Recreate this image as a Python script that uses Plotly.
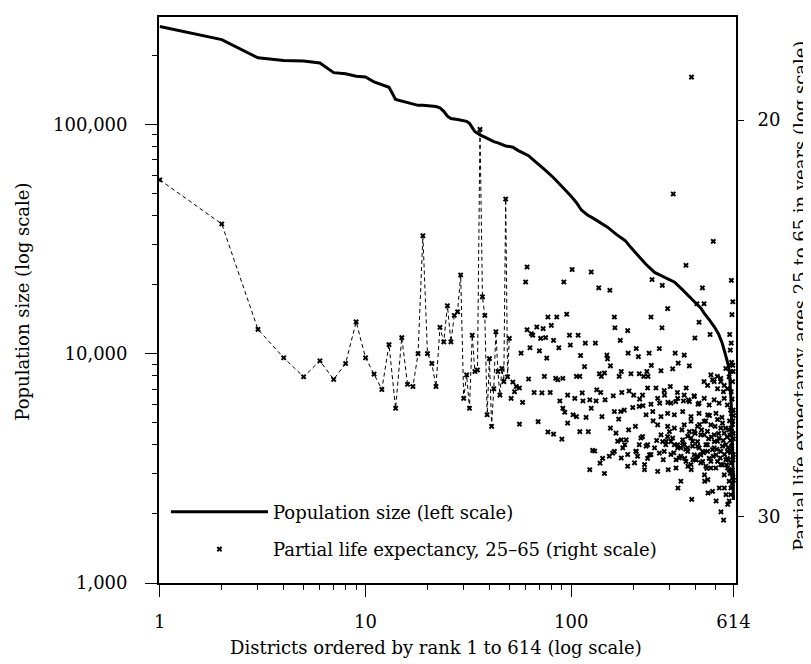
import plotly.graph_objects as go
import math

# ---------------- data ----------------
# Population size (left scale), districts ordered by rank
pop_rank = [1, 2, 3, 4, 5, 6, 7, 8, 9, 10, 11, 12, 13, 14, 15, 16, 17, 18, 19, 20,
            21, 22, 23, 24, 25, 26, 28, 30, 31, 32, 33, 34, 35, 36, 38, 40, 42, 44, 46, 48,
            50, 52, 55, 58, 62, 66, 70, 75, 82, 88, 94, 100, 106, 112, 120, 130, 140, 150,
            165, 183, 195, 211, 230, 254, 285, 318, 343, 369, 398, 427, 445, 470, 496, 520,
            540, 555, 570, 580, 587, 592, 596, 600, 603, 606, 609, 611, 613, 614]
pop_size = [267000, 234000, 195000, 190000, 189000, 185000, 168000, 166000, 162000, 161000,
            153000, 149000, 145000, 128500, 126500, 125000, 123000, 121000, 121000, 120500,
            120000, 119500, 118000, 114000, 108600, 106000, 105000, 104000, 103000, 101000,
            97000, 93000, 91500, 90000, 88000, 86000, 84000, 83000, 81500, 80500,
            80000, 79500, 77000, 75000, 73000, 69500, 66500, 63000, 58500, 55000,
            51500, 48500, 45500, 42300, 40200, 38600, 37000, 35600,
            33200, 31100, 29000, 26800, 24600, 22600, 21500, 20500, 19200, 17900, 16800, 15800,
            14900, 14000, 13100, 12200, 11200, 10300, 9500, 8900, 8300, 7600, 6600, 5900,
            5200, 4500, 3800, 3200, 2700, 2300]

# Partial life expectancy 25-65 (right scale): ranks 1-50 joined by a dashed line
le_line_rank = list(range(1, 51))
le_line_value = [21.26, 22.24, 24.77, 25.50, 26.00, 25.58, 26.07, 25.65, 24.58, 25.50,
                 25.93, 26.34, 25.16, 26.85, 24.98, 26.20, 26.26, 25.39, 22.51, 25.39,
                 25.65, 26.26, 24.72, 25.09, 24.18, 25.09, 24.42, 24.33, 23.43, 26.58,
                 25.95, 26.85, 24.92, 25.86, 25.82, 20.19, 23.96, 24.42, 27.03, 25.52,
                 27.35, 26.32, 24.83, 25.86, 26.49, 25.78, 26.13, 21.68, 26.00, 25.00]

# remaining districts (rank, years), shown as points only
le_points = [
    (384, 19.14), (313, 21.57),
    (61, 23.24), (60, 23.6), (92, 23.6), (101, 23.3), (125, 23.36), (136, 23.74), (154, 23.8),
    (77, 24.46), (85, 24.46), (95, 24.39), (61, 24.78), (64, 24.88), (65, 24.92), (68, 24.71),
    (73, 24.75), (80, 24.67), (71, 25.0), (75, 24.98), (82, 25.05), (87, 25.24), (98, 24.92),
    (108, 24.92), (99, 25.17), (117, 25.12), (131, 25.12), (111, 25.44), (57, 25.38), (63, 25.24),
    (70, 25.32), (76, 25.51), (149, 25.43), (150, 25.53), (155, 25.71), (162, 24.46), (163, 24.73),
    (188, 24.8), (173, 25.05), (189, 25.38), (207, 25.26), (212, 25.47), (239, 25.38), (268, 25.26),
    (244, 24.46), (276, 24.73), (247, 23.54), (277, 23.68), (294, 24.25), (361, 23.2), (490, 22.64),
    (434, 23.74), (408, 24.13), (442, 24.13), (418, 24.59), (399, 24.99), (473, 24.9), (600, 23.56),
    (610, 24.08), (599, 25.12), (602, 25.62), (612, 25.86), (320, 25.38), (354, 25.43), (375, 25.71),
    (331, 25.64), (311, 25.79), (273, 25.84), (245, 25.7), (233, 25.86), (225, 25.99), (236, 25.99),
    (214, 25.92), (195, 25.92), (175, 25.86), (171, 25.99), (145, 25.9), (137, 25.92), (140, 25.99),
    (116, 25.73), (106, 25.99), (110, 25.99), (91, 26.04), (84, 26.04), (86, 26.08), (74, 25.99),
    (62, 26.06), (56, 26.3), (54, 26.26), (52, 26.14), (53, 26.4), (51, 26.58), (58, 26.69),
    (66, 26.42), (72, 26.43), (79, 26.42), (88, 26.65), (96, 26.49), (104, 26.58), (113, 26.43),
    (114, 26.65), (123, 26.62), (133, 26.35), (139, 26.42), (132, 26.65), (146, 26.62), (160, 26.51),
    (176, 26.42), (191, 26.38), (201, 26.49), (222, 26.49), (235, 26.3), (258, 26.3), (283, 26.37),
    (303, 26.26), (328, 26.42), (362, 26.3), (396, 26.51), (442, 26.13), (486, 26.08), (513, 25.99),
    (533, 26.13), (549, 26.4), (413, 26.74), (371, 26.62), (351, 26.65), (322, 26.67), (295, 26.69),
    (269, 26.71), (244, 26.74), (223, 26.78), (199, 26.83), (181, 26.9), (174, 26.94), (162, 26.94),
    (141, 27.08), (125, 26.85), (102, 27.03), (106, 27.08), (93, 26.96), (91, 26.85), (56, 27.29),
    (69, 27.22), (77, 27.51), (82, 27.57), (90, 27.71),
    (96, 27.26), (110, 27.5), (121, 27.5), (127, 28.03), (138, 28.4), (142, 28.26), (153, 28.2),
    (159, 28.11), (123, 28.59), (165, 27.54), (175, 27.73), (185, 27.73), (178, 27.96), (188, 28.49),
    (206, 28.06), (210, 28.2), (214, 27.87), (222, 27.64), (231, 27.91), (235, 28.26), (240, 28.16),
    (227, 28.59), (254, 27.96), (268, 28.11), (263, 28.64), (278, 27.78), (288, 27.87), (294, 27.64),
    (305, 27.78), (317, 27.87), (329, 27.96), (296, 28.59), (323, 28.54), (330, 29.13), (341, 28.93),
    (348, 27.73), (354, 27.87), (368, 28.06), (382, 27.68), (389, 27.91), (396, 28.16), (404, 28.3),
    (356, 28.26), (369, 28.49), (383, 28.59), (411, 27.78), (418, 27.96), (426, 28.16), (435, 28.35),
    (443, 27.59), (451, 27.87), (460, 28.06), (468, 28.26), (444, 28.74), (461, 28.88), (477, 28.54),
    (495, 27.96), (505, 28.16), (514, 28.35), (496, 27.78), (523, 27.68), (533, 28.06), (543, 28.45),
    (554, 28.74), (555, 29.13), (564, 27.87), (574, 28.26), (575, 28.54), (585, 28.93), (596, 29.33),
    (597, 29.13), (586, 29.52), (608, 28.74), (385, 29.47), (462, 29.28), (506, 29.52), (534, 29.85),
    (550, 30.1), (524, 29.13), (486, 29.23), (445, 28.93), (565, 29.33), (576, 29.62),
    (263, 26.58), (284, 26.49), (305, 26.71), (329, 26.58), (354, 26.49), (375, 26.67), (396, 26.53),
    (418, 26.71), (443, 26.58), (468, 26.76), (495, 26.62), (523, 26.71), (554, 26.58), (574, 26.76),
    (596, 26.9), (505, 26.99), (460, 27.03), (418, 26.99), (382, 27.08), (348, 26.94), (317, 27.03),
    (294, 26.99), (273, 27.08), (249, 26.94), (231, 27.03), (214, 26.8),
    (477, 25.95), (495, 26.13), (533, 26.04), (554, 26.23), (574, 26.32), (585, 26.0), (596, 25.86),
    (608, 26.13), (514, 26.32), (460, 26.23), (564, 25.78), (590, 25.69),
    (589, 24.9), (591, 27.6), (593, 25.3), (595, 28.1), (597, 27.4), (599, 26.4), (601, 28.6),
    (603, 27.9), (604, 24.4), (605, 26.6), (607, 29.0), (609, 27.2), (610, 25.7), (611, 28.3),
    (612, 26.9), (613, 27.7), (614, 28.9),
    (273, 27.59), (289, 27.77), (311, 27.68), (329, 27.87), (348, 27.82), (368, 27.96), (389, 27.77),
    (411, 27.91), (435, 28.06), (459, 27.87), (486, 28.01), (514, 27.77), (543, 27.91), (574, 28.06),
    (283, 28.06), (305, 28.15), (323, 28.3), (341, 28.2), (361, 28.35), (382, 28.44), (404, 28.3),
    (426, 28.39), (451, 28.49), (477, 28.35), (504, 28.54), (533, 28.44), (564, 28.3), (585, 28.59),
    (341, 27.96), (368, 27.63), (396, 27.49), (426, 27.59), (459, 27.49), (495, 27.59), (533, 27.40),
    (554, 27.54), (585, 27.45), (263, 27.31), (294, 27.35), (317, 27.40), (354, 27.31), (382, 27.21),
    (411, 27.35), (443, 27.21), (477, 27.31), (514, 27.16), (543, 27.26), (235, 27.87), (218, 27.68),
    (244, 28.15), (227, 28.44), (207, 28.06), (188, 28.15), (203, 28.39), (182, 27.87), (168, 27.77),
    (175, 28.25), (162, 28.06),
    (470, 27.05), (480, 27.65), (490, 28.2), (500, 27.35), (510, 28.0), (520, 27.55), (530, 28.25),
    (540, 27.1), (548, 27.75), (556, 28.15), (562, 27.4), (568, 28.45), (572, 27.65), (578, 27.95),
    (582, 28.3), (588, 27.2), (592, 28.7), (594, 27.75), (598, 28.4), (600, 27.0), (602, 27.5),
    (604, 28.05), (606, 28.6), (608, 27.3), (610, 28.8), (612, 27.55), (613, 28.15), (614, 27.05),
    (430, 27.45), (440, 28.1), (450, 27.2), (456, 28.55), (465, 27.7), (400, 27.55), (410, 28.2),
    (420, 27.3), (390, 28.3), (375, 27.5), (360, 28.0), (345, 27.45), (335, 28.25),
    (250, 27.2), (260, 27.75), (280, 28.3), (300, 27.5), (315, 28.1), (205, 27.35), (215, 26.6),
    (190, 27.45), (170, 27.15), (155, 27.4), (145, 28.7), (130, 28.05), (118, 27.1),
]
le_point_rank = [p[0] for p in le_points]
le_point_value = [p[1] for p in le_points]

x_ticks = [1, 10, 100, 614]
x_minor = [2, 3, 4, 5, 6, 7, 8, 9, 20, 30, 40, 50, 60, 70, 80, 90, 200, 300, 400, 500]
left_ticks = [1000, 10000, 100000]
left_labels = ["1,000", "10,000", "100,000"]
left_minor = [2000, 3000, 4000, 5000, 6000, 7000, 8000, 9000,
              20000, 30000, 40000, 50000, 60000, 70000, 80000, 90000, 200000]
right_ticks = [20, 30]

x_title = "Districts ordered by rank 1 to 614 (log scale)"
left_title = "Population size (log scale)"
right_title = "Partial life expectancy ages 25 to 65 in years (log scale)"

# ---------------- figure ----------------
FONT = "DejaVu Serif"
font18 = dict(family=FONT, size=18, color="black")

fig = go.Figure()

fig.add_trace(go.Scatter(
    x=pop_rank, y=pop_size, mode="lines",
    line=dict(color="black", width=3),
    name="Population size (left scale)", legendgroup="a"))

fig.add_trace(go.Scatter(
    x=le_line_rank, y=le_line_value, yaxis="y2", mode="lines+markers",
    line=dict(color="black", width=1, dash="4px,3px"),
    marker=dict(symbol="x", size=5, color="black"),
    showlegend=False))

fig.add_trace(go.Scatter(
    x=le_point_rank, y=le_point_value, yaxis="y2", mode="markers",
    marker=dict(symbol="x", size=5, color="black"),
    name="Partial life expectancy, 25\u201365 (right scale)", legendgroup="b"))

fig.update_layout(
    width=811, height=664,
    margin=dict(l=151, r=83, t=7, b=89),
    paper_bgcolor="white", plot_bgcolor="white",
    font=font18,
    showlegend=True,
    legend=dict(x=0.012, y=0.158, xanchor="left", yanchor="top",
                bgcolor="rgba(0,0,0,0)", font=font18,
                itemwidth=97, tracegroupgap=11),
    xaxis=dict(
        type="log", range=[-0.004, math.log10(632)],
        tickmode="array", tickvals=x_ticks, ticktext=[str(v) for v in x_ticks],
        ticks="outside", ticklen=12, tickwidth=1.4, tickcolor="black",
        ticklabelstandoff=9,
        minor=dict(tickmode="array", tickvals=x_minor, ticks="outside",
                   ticklen=5, tickwidth=1.4, tickcolor="black", showgrid=False),
        showline=True, linecolor="black", linewidth=1.8, mirror=True,
        showgrid=False, zeroline=False, tickfont=font18),
    yaxis=dict(
        type="log", range=[3, 5.468],
        tickmode="array", tickvals=left_ticks, ticktext=left_labels,
        ticks="outside", ticklen=12, tickwidth=1.4, tickcolor="black",
        ticklabelstandoff=14,
        minor=dict(tickmode="array", tickvals=left_minor, ticks="outside",
                   ticklen=5, tickwidth=1.4, tickcolor="black", showgrid=False),
        showline=True, linecolor="black", linewidth=1.8,
        showgrid=False, zeroline=False, tickfont=font18),
    yaxis2=dict(
        type="log", overlaying="y", side="right",
        range=[math.log10(32.1), math.log10(18.0)],
        tickmode="array", tickvals=right_ticks, ticktext=[str(v) for v in right_ticks],
        ticks="outside", ticklen=6, tickwidth=1.4, tickcolor="black",
        ticklabelstandoff=10,
        showline=True, linecolor="black", linewidth=1.8,
        showgrid=False, zeroline=False, tickfont=font18),
    annotations=[
        dict(text=x_title, xref="paper", yref="paper", x=(428 - 151) / 577, y=-0.1145,
             xanchor="center", yanchor="middle", showarrow=False, font=font18),
        dict(text=left_title, xref="paper", yref="paper", x=(15 - 151) / 577, y=0.497,
             xanchor="center", yanchor="middle", textangle=-90, showarrow=False, font=font18),
        dict(text=right_title, xref="paper", yref="paper", x=(792 - 151) / 577, y=0.507,
             xanchor="center", yanchor="middle", textangle=-90, showarrow=False, font=font18),
    ],
)

fig.write_html("out.html")
